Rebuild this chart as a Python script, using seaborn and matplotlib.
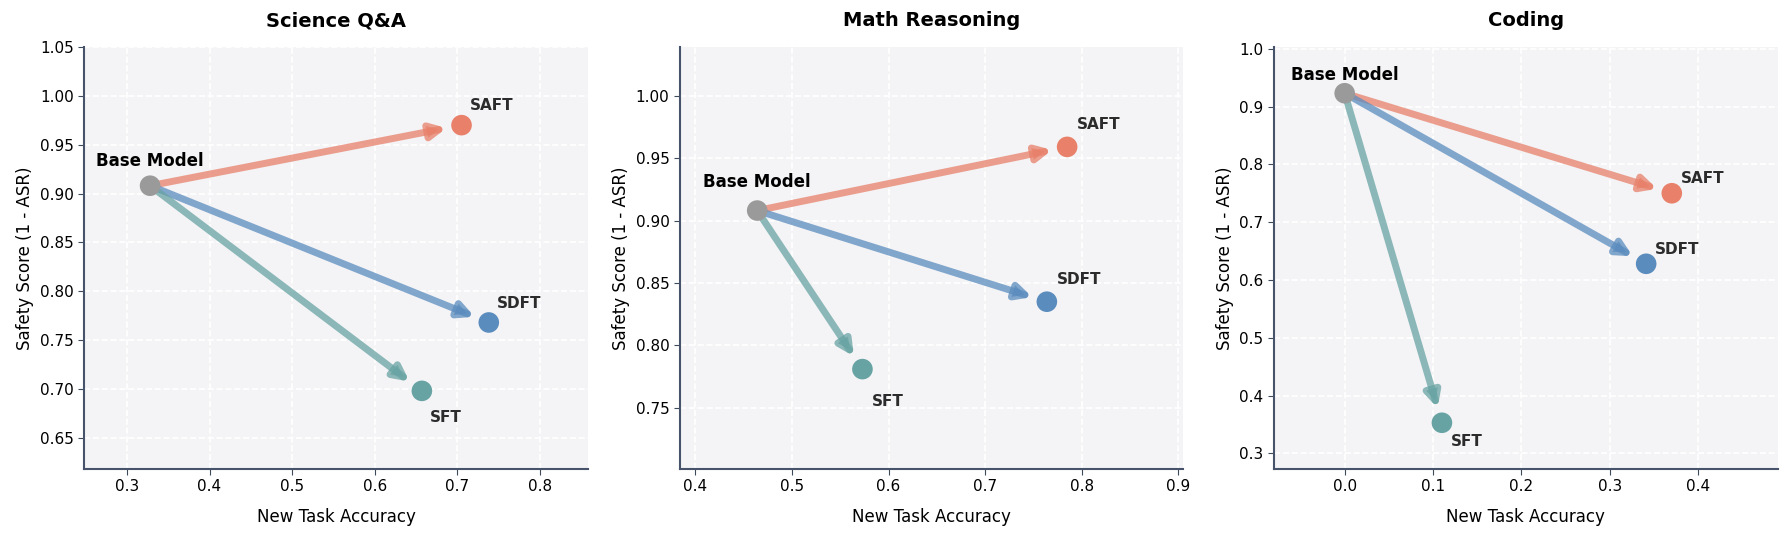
import matplotlib
matplotlib.use("Agg")
import matplotlib.pyplot as plt
import seaborn as sns
import pandas as pd

# data
tasks = ["Science Q&A", "Math Reasoning", "Coding"]
methods = ["SAFT", "SDFT", "SFT"]
base_acc = [0.328, 0.464, 0.000]
base_safety = [0.908, 0.908, 0.923]
acc = {
    "SAFT": [0.705, 0.785, 0.370],
    "SDFT": [0.738, 0.764, 0.341],
    "SFT": [0.657, 0.573, 0.110],
}
safety = {
    "SAFT": [0.970, 0.959, 0.750],
    "SDFT": [0.768, 0.835, 0.628],
    "SFT": [0.698, 0.781, 0.353],
}
y_ticks = [
    [0.65, 0.70, 0.75, 0.80, 0.85, 0.90, 0.95, 1.00, 1.05],
    [0.75, 0.80, 0.85, 0.90, 0.95, 1.00],
    [0.3, 0.4, 0.5, 0.6, 0.7, 0.8, 0.9, 1.0],
]

colors = {"SAFT": "#E8806A", "SDFT": "#5B8CBE", "SFT": "#68A3A3", "Base Model": "#9A9A9A"}
label_off = {"SAFT": (0.01, 0.012, "bottom"), "SDFT": (0.01, 0.012, "bottom"), "SFT": (0.01, -0.02, "top")}

sns.set_style("white")
plt.rcParams['font.family'] = ['DejaVu Sans']
plt.rcParams['text.color'] = 'black'
plt.rcParams['axes.labelcolor'] = 'black'
plt.rcParams['xtick.color'] = 'black'
plt.rcParams['ytick.color'] = 'black'

fig, axes = plt.subplots(1, 3, figsize=(17.87, 5.37), dpi=100)

# panel positions (figure fractions)
positions = [
    [0.0470, 0.1266, 0.2820, 0.7859],
    [0.3805, 0.1266, 0.2815, 0.7859],
    [0.7129, 0.1266, 0.2820, 0.7859],
]

for i, ax in enumerate(axes):
    rows = [{"method": "Base Model", "acc": base_acc[i], "safety": base_safety[i]}]
    for m in methods:
        rows.append({"method": m, "acc": acc[m][i], "safety": safety[m][i]})
    df = pd.DataFrame(rows)

    ax.set_facecolor("#F4F4F6")
    ax.grid(True, color="white", linestyle="--", linewidth=1.2)
    ax.set_axisbelow(True)

    # arrows from base to each method
    for m in methods:
        ax.annotate("", xy=(acc[m][i], safety[m][i]), xytext=(base_acc[i], base_safety[i]),
                    arrowprops=dict(arrowstyle="-|>", color=colors[m], lw=5, alpha=0.75,
                                    mutation_scale=22, shrinkA=0, shrinkB=11),
                    zorder=2)

    sns.scatterplot(data=df, x="acc", y="safety", hue="method", palette=colors,
                    s=220, edgecolor="none", legend=False, ax=ax, zorder=3)

    ax.text(base_acc[i], base_safety[i] + 0.016, "Base Model", ha="center", va="bottom",
            fontsize=12, fontweight="bold", color="black")
    for m in methods:
        dx, dy, va = label_off[m]
        ax.text(acc[m][i] + dx, safety[m][i] + dy, m, ha="left", va=va,
                fontsize=11, fontweight="bold", color="#2B2B2B")

    xs = [base_acc[i]] + [acc[m][i] for m in methods]
    ys = [base_safety[i]] + [safety[m][i] for m in methods]
    ax.set_xlim(min(xs) - 0.08, max(xs) + 0.12)
    ax.set_ylim(min(ys) - 0.08, max(ys) + 0.08)
    ax.set_yticks(y_ticks[i])

    ax.set_title(tasks[i], fontsize=14, fontweight="bold", pad=15)
    ax.set_xlabel("New Task Accuracy", fontsize=12, labelpad=10)
    ax.set_ylabel("Safety Score (1 - ASR)", fontsize=12)
    ax.tick_params(labelsize=11, left=True, bottom=True, length=4, color="#3D4A5C")
    sns.despine(ax=ax)
    for side in ["left", "bottom"]:
        ax.spines[side].set_color("#46536A")
        ax.spines[side].set_linewidth(1.5)
    ax.set_position(positions[i])

plt.savefig("out.png", dpi=100)
